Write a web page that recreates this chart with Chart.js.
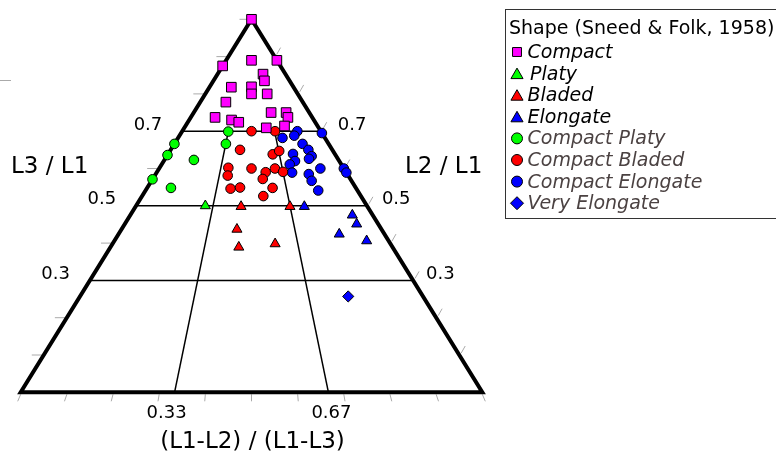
<!DOCTYPE html>
<html>
<head>
<meta charset="utf-8">
<script src="https://cdn.jsdelivr.net/npm/chart.js@4.4.1/dist/chart.umd.min.js"></script>
<style>
  body { margin: 0; background: #fff; }
  #wrap { width: 776px; height: 459px; }
</style>
</head>
<body>
<div id="wrap"><canvas id="ternary" width="776" height="459"></canvas></div>
<script>
// each point: [f, s] with f = (L1-L2)/(L1-L3), s = L3/L1
const compact = [
  [0.5, 1.0], [0.0, 0.875], [0.50, 0.890], [1.0, 0.890], [0.67, 0.853],
  [0.67, 0.835], [0.26, 0.818], [0.50, 0.819], [0.50, 0.800], [0.67, 0.800],
  [0.25, 0.778], [0.67, 0.750], [0.80, 0.750], [0.80, 0.737], [0.20, 0.737],
  [0.34, 0.730], [0.40, 0.724], [0.61, 0.709], [0.75, 0.714]
];
const platy = [[0.30, 0.500]];
const bladed = [[0.455, 0.498], [0.444, 0.437], [0.455, 0.389], [0.666, 0.498], [0.585, 0.398]];
const elongate = [[0.728, 0.498], [0.916, 0.475], [0.915, 0.451], [0.830, 0.424], [0.920, 0.406]];
const compactPlaty = [
  [0.333, 0.699], [0.334, 0.666], [0.0, 0.666], [0.0, 0.636], [0.169, 0.623],
  [0.0, 0.571], [0.114, 0.548]
];
const compactBladed = [
  [0.5, 0.700], [0.67, 0.700], [0.429, 0.650], [0.627, 0.638], [0.67, 0.647],
  [0.374, 0.602], [0.377, 0.581], [0.5, 0.600], [0.575, 0.590], [0.627, 0.600],
  [0.667, 0.591], [0.557, 0.572], [0.40, 0.546], [0.445, 0.549], [0.601, 0.548],
  [0.554, 0.526]
];
const compactElongate = [
  [0.831, 0.700], [1.0, 0.695], [0.711, 0.682], [0.797, 0.688], [0.831, 0.666],
  [0.852, 0.650], [0.855, 0.633], [0.749, 0.639], [0.748, 0.620], [0.833, 0.626],
  [0.713, 0.611], [0.714, 0.589], [0.873, 0.600], [0.799, 0.585], [0.801, 0.567],
  [0.815, 0.541], [1.0, 0.600], [1.0, 0.589]
];
const veryElongate = [[0.782, 0.257]];

const levels = [0.3, 0.5, 0.7];          // L3/L1 lines
const forms = [1 / 3, 2 / 3];            // (L1-L2)/(L1-L3) lines
const formLabels = ["0.33", "0.67"];

// ternary -> cartesian (base 0..1, height 0..1)
const toXY = (f, s) => ({ x: s / 2 + (1 - s) * f, y: s });
const pts = (arr) => arr.map(([f, s]) => toXY(f, s));

const series = [
  { label: "Compact", data: compact, style: "rect", color: "#ff00ff", r: 6.8, lr: 6.3, txt: "#000" },
  { label: "Platy", data: platy, style: "triangle", color: "#00ff00", r: 5.8, lr: 7, txt: "#000" },
  { label: "Bladed", data: bladed, style: "triangle", color: "#ff0000", r: 5.8, lr: 7, txt: "#000" },
  { label: "Elongate", data: elongate, style: "triangle", color: "#0000ff", r: 5.8, lr: 7, txt: "#000" },
  { label: "Compact Platy", data: compactPlaty, style: "circle", color: "#00ff00", r: 4.8, lr: 5.5, txt: "#4b4242" },
  { label: "Compact Bladed", data: compactBladed, style: "circle", color: "#ff0000", r: 4.8, lr: 5.5, txt: "#4b4242" },
  { label: "Compact Elongate", data: compactElongate, style: "circle", color: "#0000ff", r: 4.8, lr: 5.5, txt: "#4b4242" },
  { label: "Very Elongate", data: veryElongate, style: "rectRot", color: "#0000ff", r: 5.6, lr: 6.5, txt: "#4b4242" }
];

const datasets = series.map((d) => ({
  label: d.label,
  data: pts(d.data),
  pointStyle: d.style,
  pointRadius: d.r,
  pointBackgroundColor: d.color,
  pointBorderColor: "#000",
  pointBorderWidth: 1,
  showLine: false,
  clip: false
}));

const lineSet = (data, w) => ({
  data: data,
  showLine: true,
  pointRadius: 0,
  borderColor: "#000",
  borderWidth: w,
  borderJoinStyle: "miter",
  tension: 0,
  clip: false,
  order: 10
});

// triangle outline (repeated to get mitred corners everywhere)
datasets.push(lineSet([{ x: 0.5, y: 1 }, { x: 1, y: 0 }, { x: 0, y: 0 }, { x: 0.5, y: 1 }, { x: 1, y: 0 }], 4));
levels.forEach((s) => datasets.push(lineSet([{ x: s / 2, y: s }, { x: 1 - s / 2, y: s }], 1.5)));
forms.forEach((f) => datasets.push(lineSet([toXY(f, 0.7), toXY(f, 0)], 1.5)));

const overlay = {
  id: "overlay",
  beforeDatasetsDraw(chart) {
    const { ctx, scales: { x, y } } = chart;
    ctx.save();
    ctx.strokeStyle = "#aaa";
    ctx.lineWidth = 1;
    ctx.beginPath();
    // bottom ticks
    for (let i = 0; i <= 10; i++) {
      const px = x.getPixelForValue(i / 10);
      const py = y.getPixelForValue(0);
      const dx = (i / 10 - 0.5) * 6;
      ctx.moveTo(px, py + 2);
      ctx.lineTo(px + dx, py + 9);
    }
    // left ticks
    [0.1, 0.2, 0.4, 0.6, 0.8, 0.9, 1.0].forEach((s) => {
      const px = x.getPixelForValue(s / 2);
      const py = y.getPixelForValue(s);
      ctx.moveTo(px - 1, py);
      ctx.lineTo(px - 12, py);
    });
    // right ticks
    for (let i = 1; i <= 9; i++) {
      const s = i / 10;
      const px = x.getPixelForValue(1 - s / 2);
      const py = y.getPixelForValue(s);
      ctx.moveTo(px + 2, py - 2);
      ctx.lineTo(px + 6, py - 9);
    }
    ctx.moveTo(0, 80.5);
    ctx.lineTo(11, 80.5);
    ctx.stroke();
    ctx.restore();
  },
  afterDraw(chart) {
    const { ctx, scales: { x, y } } = chart;
    ctx.save();
    ctx.fillStyle = "#000";
    ctx.textBaseline = "middle";

    // level labels
    ctx.font = "18px 'DejaVu Sans'";
    levels.forEach((s) => {
      const py = y.getPixelForValue(s) - 6;
      ctx.textAlign = "right";
      ctx.fillText(String(s), x.getPixelForValue(s / 2) - 20, py);
      ctx.textAlign = "left";
      ctx.fillText(String(s), x.getPixelForValue(1 - s / 2) + 15 + (s - 0.5) * 10, py);
    });
    // form labels
    ctx.textAlign = "center";
    const formOffsets = [-8, 3];
    forms.forEach((f, i) => {
      ctx.fillText(formLabels[i], x.getPixelForValue(f) + formOffsets[i], y.getPixelForValue(0) + 21);
    });

    // axis titles
    ctx.font = "23px 'DejaVu Sans'";
    ctx.textAlign = "left";
    ctx.fillText("L3 / L1", 11, 167);
    ctx.fillText("L2 / L1", 405, 167);
    ctx.textAlign = "center";
    ctx.fillText("(L1-L2) / (L1-L3)", 252.5, 442);

    // legend
    ctx.strokeStyle = "#333";
    ctx.lineWidth = 1;
    ctx.strokeRect(505.5, 9.5, 290, 209);
    ctx.textAlign = "left";
    ctx.font = "19px 'DejaVu Sans'";
    ctx.fillText("Shape (Sneed & Folk, 1958)", 509, 29);
    ctx.font = "italic 19px 'DejaVu Sans'";
    series.forEach((d, i) => {
      const ly = 52 + i * 21.6;
      ctx.fillStyle = d.color;
      ctx.strokeStyle = "#000";
      ctx.lineWidth = 1;
      Chart.helpers.drawPoint(ctx, { pointStyle: d.style, radius: d.lr, rotation: 0, borderWidth: 1 }, 517, d.style === "triangle" ? ly + 1.5 : ly);
      ctx.fillStyle = d.txt;
      ctx.fillText(d.label, d.label === "Platy" ? 530 : 527.5, ly + 1);
    });
    ctx.restore();
  }
};

new Chart(document.getElementById("ternary"), {
  type: "scatter",
  data: { datasets },
  options: {
    responsive: false,
    animation: false,
    events: [],
    layout: { padding: { left: 20.7, right: 293.7, top: 19.3, bottom: 66.7 } },
    scales: {
      x: { type: "linear", min: 0, max: 1, display: false },
      y: { type: "linear", min: 0, max: 1, display: false }
    },
    plugins: { legend: { display: false }, tooltip: { enabled: false } }
  },
  plugins: [overlay]
});
</script>
</body>
</html>
